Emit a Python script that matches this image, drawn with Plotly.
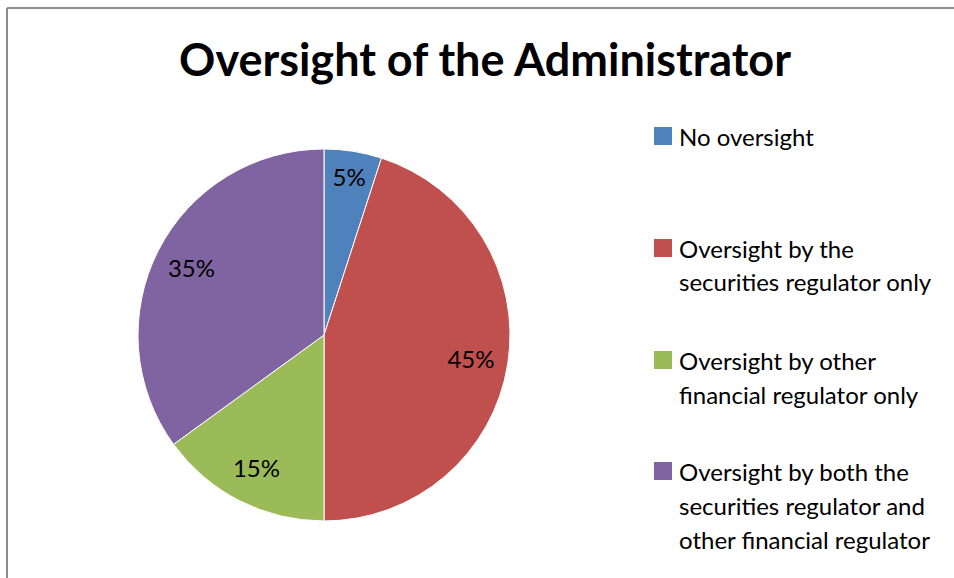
import plotly.graph_objects as go

categories = [
    "No oversight",
    "Oversight by the<br>securities regulator only",
    "Oversight by other<br>financial regulator only",
    "Oversight by both the<br>securities regulator and<br>other financial regulator",
]
values = [5, 45, 15, 35]
colors = ["#4F81BD", "#C0504D", "#9BBB59", "#8064A2"]
title_text = "Oversight of the Administrator"

W, H = 954, 578
FONT = "Lato, 'Open Sans', sans-serif"
pie_domain = dict(x=[138 / W, 510 / W], y=[57 / H, 429 / H])

fig = go.Figure()
# filled pie (no text)
fig.add_trace(go.Pie(
    labels=categories,
    values=values,
    sort=False,
    direction="clockwise",
    rotation=0,
    marker=dict(colors=colors, line=dict(color="white", width=1)),
    textinfo="none",
    domain=pie_domain,
    showlegend=False,
    hoverinfo="label+percent",
))
# transparent ring overlay that carries the percentage labels at ~0.8R
fig.add_trace(go.Pie(
    labels=categories,
    values=values,
    sort=False,
    direction="clockwise",
    rotation=0,
    hole=0.6,
    marker=dict(colors=["rgba(0,0,0,0)"] * len(values), line=dict(width=0)),
    textinfo="percent",
    texttemplate="%{percent:.0%}",
    textposition="inside",
    insidetextorientation="horizontal",
    textfont=dict(family=FONT, size=24, color="black"),
    domain=pie_domain,
    showlegend=False,
    hoverinfo="skip",
))

# Manual legend (square + text lines)
shapes = []
annotations = []
item_top = [136, 248, 360, 471]
line_gap = 34
sq = 18
lx0 = 654
tx = 677
for i, (lab, col) in enumerate(zip(categories, colors)):
    yc = item_top[i]
    shapes.append(dict(type="rect", xref="paper", yref="paper",
                       x0=lx0 / W, x1=(lx0 + sq) / W,
                       y0=1 - (yc + sq / 2) / H, y1=1 - (yc - sq / 2) / H,
                       fillcolor=col, line=dict(width=0)))
    for j, line in enumerate(lab.split("<br>")):
        annotations.append(dict(
            text=line, xref="paper", yref="paper",
            x=tx / W, y=1 - (yc + j * line_gap) / H,
            xanchor="left", yanchor="middle", showarrow=False,
            font=dict(family=FONT, size=24, color="black"),
        ))

# chart border (top and left)
shapes.append(dict(type="line", xref="paper", yref="paper",
                   x0=7 / W, x1=1, y0=1 - 8 / H, y1=1 - 8 / H,
                   line=dict(color="#8c8c8c", width=2)))
shapes.append(dict(type="line", xref="paper", yref="paper",
                   x0=7 / W, x1=7 / W, y0=0, y1=1 - 8 / H,
                   line=dict(color="#8c8c8c", width=2)))

fig.update_layout(
    width=W, height=H,
    margin=dict(l=0, r=0, t=0, b=0),
    paper_bgcolor="white",
    plot_bgcolor="white",
    uniformtext=dict(minsize=24, mode="show"),
    title=dict(text="<b>" + title_text + "</b>", x=485 / W, xanchor="center",
               y=1 - 60 / H, yanchor="middle", yref="container",
               font=dict(family=FONT, size=45, color="black")),
    shapes=shapes,
    annotations=annotations,
)

fig.write_html("out.html",
               config={"displayModeBar": False},
               post_script="document.body.style.margin='0';document.body.style.overflow='hidden';")
